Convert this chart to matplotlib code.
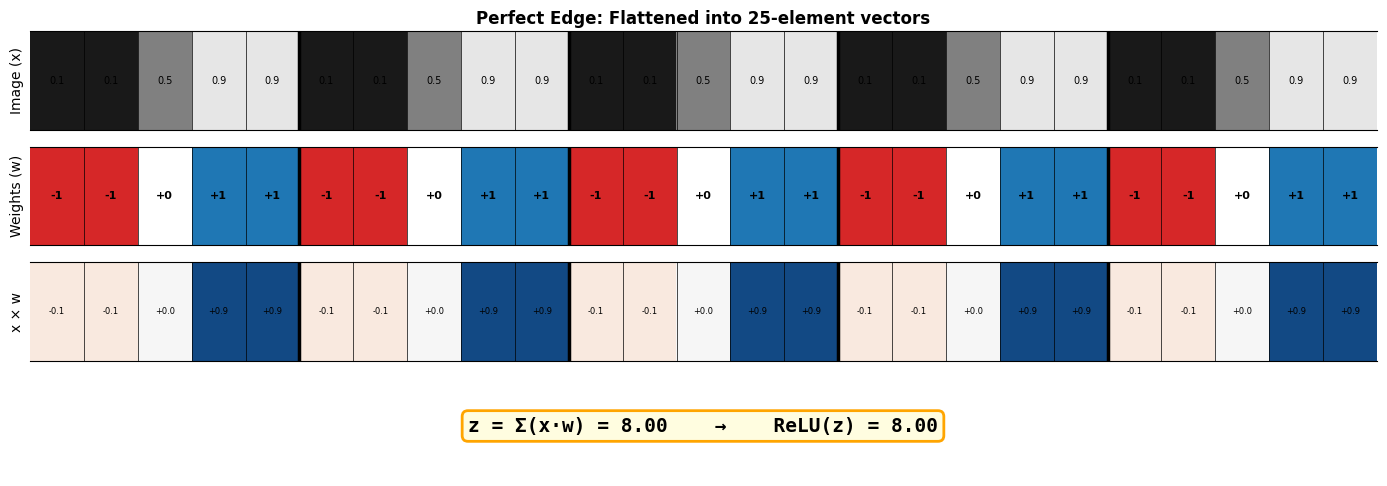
import matplotlib
matplotlib.use("Agg")
import matplotlib.pyplot as plt
import numpy as np

image_vals = [0.1, 0.1, 0.5, 0.9, 0.9] * 5
weight_vals = [-1, -1, 0, 1, 1] * 5
prod_vals = [round(x * w, 2) for x, w in zip(image_vals, weight_vals)]
z = sum(prod_vals)

fig = plt.figure(figsize=(13.87, 4.86), dpi=100)
W, H = 1387, 486
def ax_at(top, bottom):
    return fig.add_axes([30 / W, 1 - bottom / H, (1377 - 30) / W, (bottom - top) / H])

ax1 = ax_at(31, 130)
ax2 = ax_at(147, 245)
ax3 = ax_at(262, 361)

n = len(image_vals)
ax1.imshow(np.array([image_vals]), cmap="gray", vmin=0, vmax=1, aspect="auto")
for i, v in enumerate(image_vals):
    ax1.text(i, 0, f"{v:.1f}", ha="center", va="center", fontsize=7, color="black")
ax1.set_title("Perfect Edge: Flattened into 25-element vectors", fontsize=12, fontweight="bold", pad=5)
ax1.set_ylabel("Image (x)", fontsize=10)

wcol = {-1: "#d62728", 0: "#ffffff", 1: "#1f77b4"}
ax2.set_xlim(-0.5, n - 0.5); ax2.set_ylim(0.5, -0.5)
for i, w in enumerate(weight_vals):
    ax2.add_patch(plt.Rectangle((i - 0.5, -0.5), 1, 1, facecolor=wcol[w], edgecolor="none"))
    lab = f"{w:+d}" if w != 0 else "+0"
    ax2.text(i, 0, lab, ha="center", va="center", fontsize=8, fontweight="bold", color="black")
ax2.set_ylabel("Weights (w)", fontsize=10)

ax3.imshow(np.array([prod_vals]), cmap="RdBu", vmin=-1, vmax=1, aspect="auto")
for i, p in enumerate(prod_vals):
    ax3.text(i, 0, f"{p:+.1f}", ha="center", va="center", fontsize=6, color="black")
ax3.set_ylabel("x × w", fontsize=10)

for ax in (ax1, ax2, ax3):
    ax.set_xticks([]); ax.set_yticks([])
    ax.set_xlim(-0.5, n - 0.5)
    for i in range(1, n):
        lw = 2.5 if i % 5 == 0 else 0.5
        ax.axvline(i - 0.5, color="black", lw=lw)
    for s in ("left", "right"):
        ax.spines[s].set_visible(False)
    ax.spines["top"].set_linewidth(0.8)
    ax.spines["bottom"].set_linewidth(0.8)

fig.text(703 / W, 1 - 426 / H, f"z = Σ(x·w) = {z:.2f}    →    ReLU(z) = {max(z, 0):.2f}",
         ha="center", va="center", fontsize=14, fontweight="bold", family="DejaVu Sans Mono",
         bbox=dict(boxstyle="round,pad=0.3", facecolor="#fffde0", edgecolor="orange", linewidth=2))

fig.savefig("out.png", dpi=100)
